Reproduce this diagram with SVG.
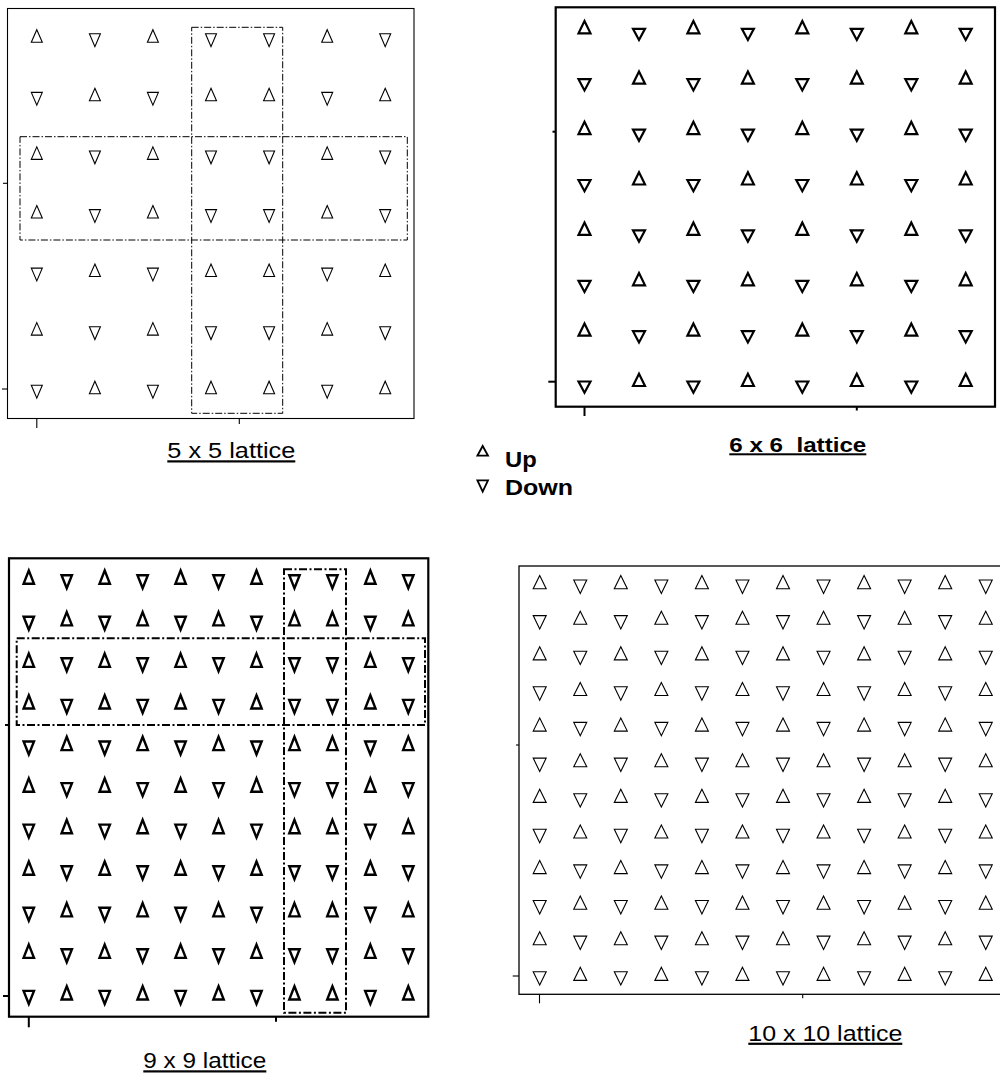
<svg xmlns="http://www.w3.org/2000/svg" xmlns:xlink="http://www.w3.org/1999/xlink" width="1000" height="1077" viewBox="0 0 1000 1077">
<style>
.t1{fill:none;stroke:#000;stroke-width:1.1;stroke-linejoin:miter}
.t2{fill:none;stroke:#000;stroke-width:2.2;stroke-linejoin:miter}
.t3{fill:none;stroke:#000;stroke-width:2.4;stroke-linejoin:miter}
.frame1{fill:none;stroke:#000;stroke-width:1.1}
.frame2{fill:none;stroke:#000;stroke-width:2.2}
.tick1{stroke:#000;stroke-width:1.1}
.tick2{stroke:#000;stroke-width:2}
.dd1{fill:none;stroke:#000;stroke-width:1;stroke-dasharray:7 2 1.5 2}
.dd3{fill:none;stroke:#000;stroke-width:2;stroke-dasharray:8 2.5 2 2.5}
.lab{font-family:"Liberation Sans",Arial,sans-serif;font-size:22px;fill:#000;text-decoration:underline;white-space:pre}
.labb{font-family:"Liberation Sans",Arial,sans-serif;font-size:20px;font-weight:bold;fill:#000;text-decoration:underline;white-space:pre}
.leg{font-family:"Liberation Sans",Arial,sans-serif;font-size:22px;font-weight:bold;fill:#000}
</style>
<defs>
<path id="u1" class="t1" d="M0,-8.3 L5.5,4.2 L-5.5,4.2 Z"/>
<path id="d1" class="t1" d="M-5.5,-4.2 L5.5,-4.2 L0,8.6 Z"/>
<path id="u2" class="t2" d="M0,-9 L6,3.3 L-6,3.3 Z"/>
<path id="d2" class="t2" d="M-6,-1.2 L6,-1.2 L0,10 Z"/>
<path id="u3" class="t3" d="M0,-7.5 L5.2,5.8 L-5.2,5.8 Z"/>
<path id="d3" class="t3" d="M-5.2,-2.8 L5.2,-2.8 L0,10.2 Z"/>
<path id="u4" class="t1" d="M0,-8.4 L6.5,4.7 L-6.5,4.7 Z"/>
<path id="d4" class="t1" d="M-6.5,-4 L6.5,-4 L0,9.4 Z"/>
<g id="r1a">
<use href="#u1" x="36.8"/><use href="#d1" x="94.9"/><use href="#u1" x="152.9"/><use href="#d1" x="211"/><use href="#d1" x="269.1"/><use href="#u1" x="327.2"/><use href="#d1" x="385.2"/>
</g>
<g id="r1b">
<use href="#d1" x="36.8"/><use href="#u1" x="94.9"/><use href="#d1" x="152.9"/><use href="#u1" x="211"/><use href="#u1" x="269.1"/><use href="#d1" x="327.2"/><use href="#u1" x="385.2"/>
</g>
<g id="r2a">
<use href="#u2" x="584.5"/><use href="#d2" x="639"/><use href="#u2" x="693.4"/><use href="#d2" x="747.9"/><use href="#u2" x="802.3"/><use href="#d2" x="856.8"/><use href="#u2" x="911.3"/><use href="#d2" x="965.7"/>
</g>
<g id="r2b">
<use href="#d2" x="584.5"/><use href="#u2" x="639"/><use href="#d2" x="693.4"/><use href="#u2" x="747.9"/><use href="#d2" x="802.3"/><use href="#u2" x="856.8"/><use href="#d2" x="911.3"/><use href="#u2" x="965.7"/>
</g>
<g id="r3a">
<use href="#u3" x="28.8"/><use href="#d3" x="66.75"/><use href="#u3" x="104.7"/><use href="#d3" x="142.65"/><use href="#u3" x="180.6"/><use href="#d3" x="218.55"/><use href="#u3" x="256.5"/><use href="#d3" x="294.45"/><use href="#d3" x="332.4"/><use href="#u3" x="370.35"/><use href="#d3" x="408.3"/>
</g>
<g id="r3b">
<use href="#d3" x="28.8"/><use href="#u3" x="66.75"/><use href="#d3" x="104.7"/><use href="#u3" x="142.65"/><use href="#d3" x="180.6"/><use href="#u3" x="218.55"/><use href="#d3" x="256.5"/><use href="#u3" x="294.45"/><use href="#u3" x="332.4"/><use href="#d3" x="370.35"/><use href="#u3" x="408.3"/>
</g>
<g id="r4a">
<use href="#u4" x="539.7"/><use href="#d4" x="580.25"/><use href="#u4" x="620.8"/><use href="#d4" x="661.35"/><use href="#u4" x="701.9"/><use href="#d4" x="742.45"/><use href="#u4" x="783"/><use href="#d4" x="823.55"/><use href="#u4" x="864.1"/><use href="#d4" x="904.65"/><use href="#u4" x="945.2"/><use href="#d4" x="985.75"/>
</g>
<g id="r4b">
<use href="#d4" x="539.7"/><use href="#u4" x="580.25"/><use href="#d4" x="620.8"/><use href="#u4" x="661.35"/><use href="#d4" x="701.9"/><use href="#u4" x="742.45"/><use href="#d4" x="783"/><use href="#u4" x="823.55"/><use href="#d4" x="864.1"/><use href="#u4" x="904.65"/><use href="#d4" x="945.2"/><use href="#u4" x="985.75"/>
</g>
</defs>
<rect width="1000" height="1077" fill="#fff"/>

<g id="lattice5">
<rect class="frame1" x="7.5" y="8.5" width="406.5" height="410"/>
<line class="tick1" x1="3" y1="183.3" x2="7.5" y2="183.3"/>
<line class="tick1" x1="2" y1="389" x2="7.5" y2="389"/>
<line class="tick1" x1="36.8" y1="418.5" x2="36.8" y2="428"/>
<line class="tick1" x1="239.3" y1="418.5" x2="239.3" y2="424"/>
<use href="#r1a" y="38"/>
<use href="#r1b" y="96.6"/>
<use href="#r1a" y="155.2"/>
<use href="#r1a" y="213.8"/>
<use href="#r1b" y="272.3"/>
<use href="#r1a" y="330.9"/>
<use href="#r1b" y="389.5"/>
<rect class="dd1" x="191.7" y="27.3" width="91" height="386"/>
<rect class="dd1" x="20" y="136.7" width="387.3" height="103.3"/>
<text class="lab" x="167.3" y="458.3" textLength="128" lengthAdjust="spacingAndGlyphs">5 x 5 lattice</text>
</g>

<g id="lattice6">
<rect class="frame2" x="555.7" y="7.3" width="439.3" height="399.4"/>
<line class="tick2" x1="552.5" y1="131.7" x2="555.7" y2="131.7"/>
<line class="tick2" x1="548.3" y1="381.7" x2="555.7" y2="381.7"/>
<line class="tick2" x1="584.5" y1="406.7" x2="584.5" y2="416"/>
<line class="tick2" x1="856.8" y1="406.7" x2="856.8" y2="410.5"/>
<use href="#r2a" y="30"/>
<use href="#r2b" y="80.4"/>
<use href="#r2a" y="130.8"/>
<use href="#r2b" y="181.2"/>
<use href="#r2a" y="231.6"/>
<use href="#r2b" y="282"/>
<use href="#r2a" y="332.4"/>
<use href="#r2b" y="382.7"/>
<text class="labb" x="729.3" y="452.3" textLength="137" lengthAdjust="spacingAndGlyphs">6 x 6  lattice</text>
</g>

<g id="legend">
<path class="t1" style="stroke-width:1.8" d="M482.7,446 L488,455.7 L477.4,455.7 Z"/>
<text class="leg" x="505" y="466.7" textLength="31.7" lengthAdjust="spacingAndGlyphs">Up</text>
<path class="t1" style="stroke-width:1.8" d="M477.4,480.3 L488,480.3 L482.7,491.7 Z"/>
<text class="leg" x="505" y="495" textLength="68" lengthAdjust="spacingAndGlyphs">Down</text>
</g>

<g id="lattice9">
<rect class="frame2" x="9" y="558.3" width="419.3" height="458.4"/>
<line class="tick2" x1="5" y1="725" x2="9" y2="725"/>
<line class="tick2" x1="3" y1="996" x2="9" y2="996"/>
<line class="tick2" x1="28.8" y1="1016.7" x2="28.8" y2="1027.3"/>
<line class="tick2" x1="276" y1="1016.7" x2="276" y2="1021.7"/>
<use href="#r3a" y="578"/>
<use href="#r3b" y="619.6"/>
<use href="#r3a" y="661.1"/>
<use href="#r3a" y="702.7"/>
<use href="#r3b" y="744.3"/>
<use href="#r3a" y="785.9"/>
<use href="#r3b" y="827.4"/>
<use href="#r3a" y="869"/>
<use href="#r3b" y="910.6"/>
<use href="#r3a" y="952.1"/>
<use href="#r3b" y="993.7"/>
<rect class="dd3" x="284" y="569.3" width="62" height="443.4"/>
<rect class="dd3" x="16.7" y="638.3" width="408.3" height="86.7"/>
<text class="lab" x="143.3" y="1068.3" textLength="123" lengthAdjust="spacingAndGlyphs">9 x 9 lattice</text>
</g>

<g id="lattice10">
<rect class="frame1" style="stroke-width:1.3" x="519" y="566" width="500" height="428.3"/>
<line class="tick1" x1="516" y1="745" x2="519" y2="745"/>
<line class="tick1" x1="512.7" y1="976" x2="519" y2="976"/>
<line class="tick1" x1="539.5" y1="994.3" x2="539.5" y2="1003.3"/>
<line class="tick1" x1="802.7" y1="994.3" x2="802.7" y2="998.3"/>
<use href="#r4a" y="584"/>
<use href="#r4b" y="619.6"/>
<use href="#r4a" y="655.2"/>
<use href="#r4b" y="690.8"/>
<use href="#r4a" y="726.4"/>
<use href="#r4b" y="762.1"/>
<use href="#r4a" y="797.7"/>
<use href="#r4b" y="833.3"/>
<use href="#r4a" y="868.9"/>
<use href="#r4b" y="904.5"/>
<use href="#r4a" y="940.1"/>
<use href="#r4b" y="975.7"/>
<text class="lab" x="748.3" y="1040.7" textLength="154" lengthAdjust="spacingAndGlyphs">10 x 10 lattice</text>
</g>
</svg>
